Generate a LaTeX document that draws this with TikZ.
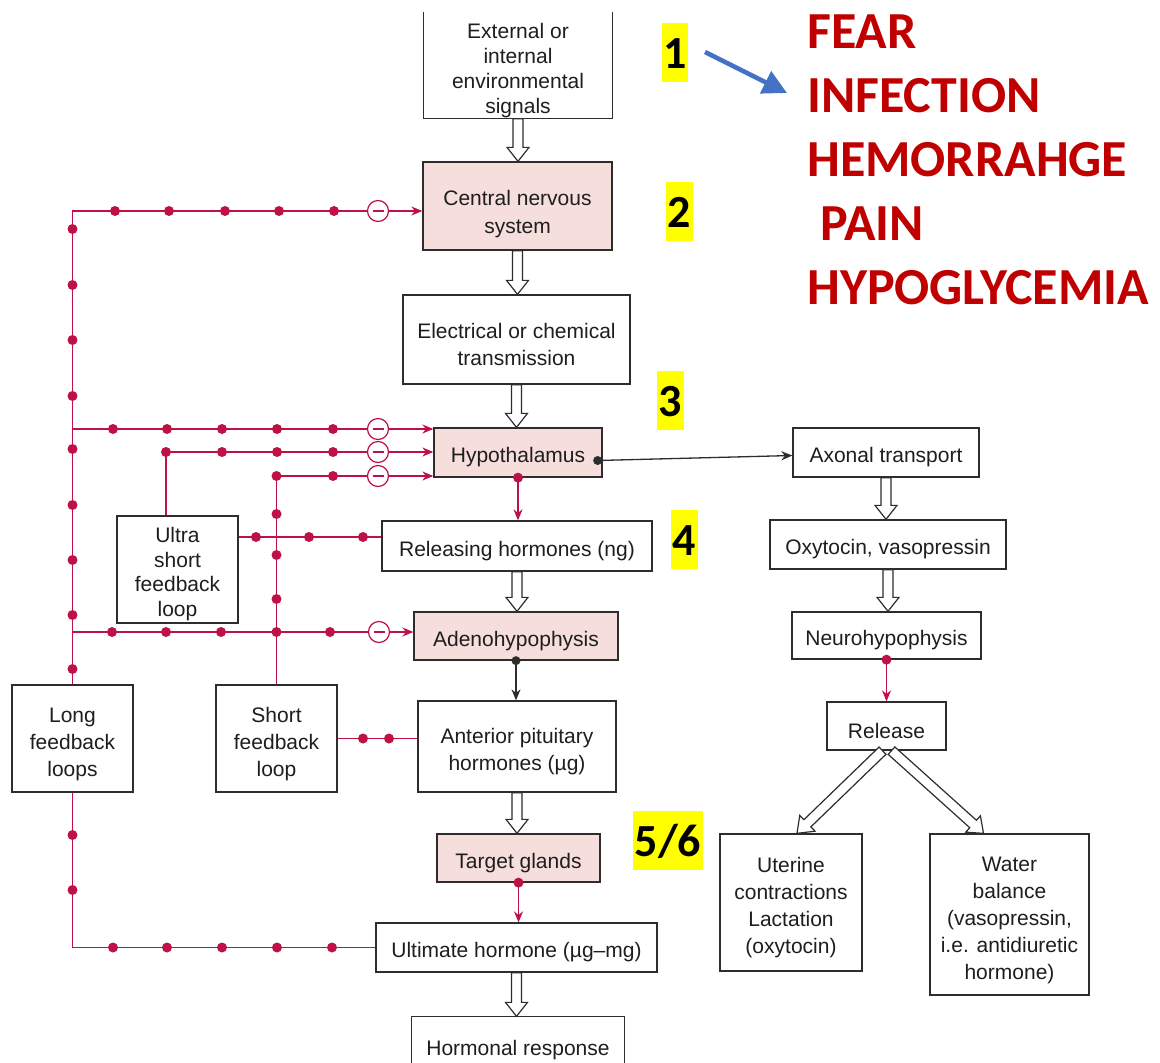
\documentclass[tikz,border=0pt]{standalone}
\usepackage{fontspec}
\setmainfont{Liberation Sans}
\newfontfamily\calib{Carlito}
\usetikzlibrary{calc,arrows.meta}
\definecolor{fbred}{RGB}{190,18,70}
\definecolor{pinkfill}{RGB}{245,222,220}
\definecolor{boxline}{RGB}{45,45,45}
\definecolor{txt}{RGB}{30,30,30}
\definecolor{alertred}{RGB}{192,0,0}
\definecolor{bluearr}{RGB}{68,114,196}
\definecolor{hl}{RGB}{255,255,0}
\tikzset{
 box/.style={draw=boxline, line width=1.3pt, fill=white, text=txt, align=center, inner sep=0pt, font=\fontsize{21}{27}\selectfont},
 pinkbox/.style={box, fill=pinkfill},
 nobox/.style={box, draw=none},
 fb/.style={draw=fbred, line width=1.4pt},
 fbarrow/.style={fb, -{Stealth[length=11pt,width=9pt]}},
 blkarrow/.style={draw=boxline, line width=1.3pt, -{Stealth[length=11pt,width=9pt]}},
 hollowline/.style={draw=boxline, line width=1.2pt, fill=white, line join=miter},
 minuscirc/.style={circle, draw=fbred, line width=1.2pt, fill=white, minimum size=21pt, inner sep=0pt,
   path picture={\draw[fbred, line width=1.2pt] ([xshift=5pt]path picture bounding box.west) -- ([xshift=-5pt]path picture bounding box.east);}},
 num/.style={fill=hl, text=black, font=\calib\bfseries\fontsize{46}{46}\selectfont, inner xsep=1.5pt, inner ysep=0pt, text height=45pt, text depth=14pt, anchor=base},
 alert/.style={text=alertred, font=\calib\bfseries\fontsize{52}{52}\selectfont, inner sep=0pt, anchor=base west},
}
\newcommand\ms[1][24.5]{\rule{0pt}{#1pt}}
\newcommand\mybox[7]{\node[#6, minimum width={#4-#2}, minimum height={#5-#3}] (#1) at ({(#2+#4)/2},{(#3+#5)/2}) {#7};}
\newcommand\hollow[2]{%
 \draw[hollowline] let \p1=(#1), \p2=(#2), \n1={atan2(\y2-\y1,\x2-\x1)}, \n2={veclen(\x2-\x1,\y2-\y1)-14} in
  ($(\p1)+(\n1+90:5pt)$) -- ++(\n1:\n2) -- ++(\n1+90:6pt) -- (\p2) -- ($(\p1)+(\n1:\n2)+(\n1-90:11pt)$) -- ++(\n1+90:6pt) -- ($(\p1)+(\n1-90:5pt)$) -- cycle;}
\begin{document}
\begin{tikzpicture}[x=1pt,y=-1pt]
\useasboundingbox[fill=white] (0,0) rectangle (1160,1063);
\coordinate (bot) at (0,1063);
\coordinate (uy) at (0,537);
% main column
\mybox{ext}{424}{13}{612}{118}{nobox,font=\fontsize{21}{25}\selectfont}{\ms External or\\internal\\environmental\\signals}
\draw[draw=boxline,line width=1.3pt] (ext.north west) -- (ext.south west) -- (ext.south east) -- (ext.north east);
\mybox{cns}{423}{162}{612}{250}{pinkbox,font=\fontsize{21}{28}\selectfont}{\ms[32]Central nervous\\system}
\mybox{elec}{403}{295}{630}{384}{box}{\ms Electrical or chemical\\transmission}
\mybox{hypo}{434}{428}{602}{477}{pinkbox}{\ms Hypothalamus}
\mybox{rel}{382}{521}{652}{571}{box}{\ms Releasing hormones (ng)}
\mybox{adeno}{414}{612}{618}{660}{pinkbox}{\ms Adenohypophysis}
\mybox{ant}{418}{701}{616}{792}{box}{\ms Anterior pituitary\\hormones (µg)}
\mybox{target}{437}{834}{600}{882}{pinkbox}{\ms Target glands}
\mybox{ult}{376}{923}{657}{972}{box}{\ms Ultimate hormone (µg–mg)}
\mybox{resp}{412}{1017}{624}{1073}{nobox}{\ms Hormonal response}
\draw[draw=boxline,line width=1.3pt] (resp.north west |- bot) -- (resp.north west) -- (resp.north east) -- (resp.north east |- bot);
% feedback boxes
\mybox{ultra}{117}{516}{238}{623}{box,font=\fontsize{21}{24.5}\selectfont}{\ms Ultra\\short\\feedback\\loop}
\mybox{short}{216}{685}{337}{792}{box}{\ms[27]Short\\feedback\\loop}
\mybox{long}{12}{685}{133}{792}{box}{\ms[27]Long\\feedback\\loops}
% right column
\mybox{axon}{793}{428}{979}{477}{box}{\ms Axonal transport}
\mybox{oxy}{770}{520}{1006}{569}{box}{\ms Oxytocin, vasopressin}
\mybox{neuro}{792}{612}{981}{659}{box}{\ms Neurohypophysis}
\mybox{release}{827}{702}{946}{750}{box}{\ms Release}
\mybox{uter}{720}{834}{862}{971}{box}{\ms Uterine\\contractions\\Lactation\\(oxytocin)}
\mybox{water}{930}{834}{1089}{995}{box}{\ms[27]Water\\balance\\(vasopressin,\\i.e. antidiuretic\\hormone)}
% hollow arrows
\hollow{ext.south}{ext.south |- cns.north}
\hollow{cns.south}{cns.south |- elec.north}
\hollow{elec.south}{elec.south |- hypo.north}
\hollow{rel.south}{rel.south |- adeno.north}
\hollow{ant.south}{ant.south |- target.north}
\hollow{ult.south}{ult.south |- resp.north}
\hollow{axon.south}{axon.south |- oxy.north}
\hollow{oxy.south}{oxy.south |- neuro.north}
\hollow{[xshift=-4pt]release.south}{[xshift=6pt]uter.north}
\hollow{[xshift=5pt]release.south}{[xshift=-26pt]water.north}
% minus circles
\node[minuscirc] (m0) at (378,211) {};
\node[minuscirc] (m1) at (378,429) {};
\node[minuscirc] (m2) at (378,452) {};
\node[minuscirc] (m3) at (378,476) {};
\node[minuscirc] (m4) at (379,632) {};
% feedback lines
\draw[fb] (long.north) |- (m0.west);
\draw[fbarrow] (m0.east) -- (m0.east -| cns.west);
\draw[fb] (long.north |- m1.west) -- (m1.west);
\draw[fbarrow] (m1.east) -- (m1.east -| hypo.west);
\draw[fb] ([xshift=-11.5pt]ultra.north) |- (m2.west);
\draw[fbarrow] (m2.east) -- (m2.east -| hypo.west);
\draw[fb] (short.north) |- (m3.west);
\draw[fbarrow] (m3.east) -- (m3.east -| hypo.west);
\draw[fb] (ultra.east |- uy) -- (rel.west |- uy);
\draw[fb] (long.north |- m4.west) -- (m4.west);
\draw[fbarrow] (m4.east) -- (m4.east -| adeno.west);
\draw[fb] (short.east) -- (short.east -| ant.west);
\draw[fb] (long.south) |- (ult.west);
% dots
\foreach \b in {229,285,340,396,449,505,560,615,669,835,890} \fill[fbred] (72.5,\b) circle (5pt);
\foreach \a in {115,169,225,279,334} \fill[fbred] (\a,211) circle (5pt);
\foreach \a in {113,167,222,277,333} \fill[fbred] (\a,429) circle (5pt);
\foreach \a in {166,222,277,333} \fill[fbred] (\a,452) circle (5pt);
\foreach \a in {276.5,333} \fill[fbred] (\a,476) circle (5pt);
\foreach \b in {514,555,599,632} \fill[fbred] (276.5,\b) circle (5pt);
\foreach \a in {256,309,363} \fill[fbred] (\a,537) circle (5pt);
\foreach \a in {112,166,221,330} \fill[fbred] (\a,632) circle (5pt);
\foreach \a in {363,389} \fill[fbred] (\a,738.5) circle (5pt);
\foreach \a in {113,167,222,277,332} \fill[fbred] (\a,947.5) circle (5pt);
% vertical small arrows
\fill[fbred] (hypo.south) circle (5pt);
\draw[fbarrow] (hypo.south) -- (hypo.south |- rel.north);
\fill[fbred] (target.south) circle (5pt);
\draw[fbarrow] (target.south) -- (target.south |- ult.north);
\fill[fbred] (neuro.south) circle (5pt);
\draw[fbarrow] (neuro.south) -- (neuro.south |- release.north);
\fill[boxline] (adeno.south) circle (4.5pt);
\draw[blkarrow] (adeno.south) -- (adeno.south |- ant.north);
\coordinate (hdot) at ([xshift=-5pt,yshift=-8pt]hypo.east);
\fill[boxline] (hdot) circle (4.5pt);
\draw[blkarrow] (hdot) -- ([yshift=-3pt]axon.west);
% yellow numbers
\node[num] (n1) at (675,68) {1};
\node[num] (n2) at (679.5,227) {2};
\node[num] (n3) at (670.5,416) {3};
\node[num] (n4) at (684.5,555) {4};
\node[num] (n56) at (668,856) {5/6};
% red list
\node[alert] (t1) at (807,48) {FEAR};
\node[alert] (t2) at (807,112) {INFECTION};
\node[alert] (t3) at (807,176) {HEMORRAHGE};
\node[alert] (t4) at (820,240) {PAIN};
\node[alert] (t5) at (807,304) {HYPOGLYCEMIA};
\coordinate (b1) at (705,52);
\coordinate (b2) at (787,93);
\draw[draw=bluearr, line width=4.5pt, -{Triangle[length=24pt,width=24pt]}] (b1) -- (b2);
\end{tikzpicture}
\end{document}
